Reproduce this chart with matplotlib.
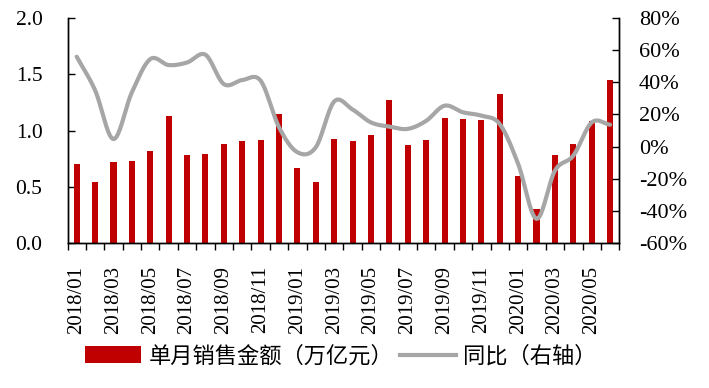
import numpy as np
import matplotlib
matplotlib.use("Agg")
import matplotlib.pyplot as plt
from matplotlib.lines import Line2D
from matplotlib.patches import Patch

months = [f"{y}/{m:02d}" for y in (2018, 2019, 2020) for m in range(1, 13)][:30]
sales = [0.70, 0.54, 0.72, 0.73, 0.82, 1.13, 0.785, 0.79, 0.876, 0.905,
         0.918, 1.15, 0.666, 0.546, 0.926, 0.91, 0.956, 1.274, 0.873, 0.918,
         1.109, 1.10, 1.097, 1.32, 0.60, 0.30, 0.78, 0.876, 1.088, 1.45]
yoy = [55.8, 35.0, 4.7, 33.7, 54.3, 50.6, 52.2, 57.0, 38.8, 41.3,
       40.9, 12.0, -3.5, -0.4, 28.0, 23.0, 15.0, 12.4, 11.0, 16.0,
       25.4, 21.3, 19.2, 14.0, -10.7, -44.8, -14.9, -5.6, 15.0, 13.6]
left_ticks = [0.0, 0.5, 1.0, 1.5, 2.0]
right_ticks = [-60, -40, -20, 0, 20, 40, 60, 80]
bar_label = "单月销售金额（万亿元）"
line_label = "同比（右轴）"

fam = ["Liberation Serif", "Noto Sans CJK SC"]
plt.rcParams["font.family"] = fam


def catmull_rom(x, y, n=20):
    x = np.asarray(x, float)
    y = np.asarray(y, float)
    px = np.concatenate([[2 * x[0] - x[1]], x, [2 * x[-1] - x[-2]]])
    py = np.concatenate([[2 * y[0] - y[1]], y, [2 * y[-1] - y[-2]]])
    xs, ys = [], []
    t = np.linspace(0, 1, n, endpoint=False)
    for i in range(1, len(px) - 2):
        p0, p1, p2, p3 = py[i - 1], py[i], py[i + 1], py[i + 2]
        q0, q1, q2, q3 = px[i - 1], px[i], px[i + 1], px[i + 2]
        f = lambda a0, a1, a2, a3: 0.5 * ((2 * a1) + (-a0 + a2) * t
                                          + (2 * a0 - 5 * a1 + 4 * a2 - a3) * t ** 2
                                          + (-a0 + 3 * a1 - 3 * a2 + a3) * t ** 3)
        xs.append(f(q0, q1, q2, q3))
        ys.append(f(p0, p1, p2, p3))
    xs.append([x[-1]])
    ys.append([y[-1]])
    return np.concatenate(xs), np.concatenate(ys)


fig = plt.figure(figsize=(7.09, 3.88), dpi=100)
ax = fig.add_axes([67.5 / 709, 1 - 243.3 / 388, (619.3 - 67.5) / 709, (243.3 - 17.7) / 388])
ax2 = ax.twinx()

x = np.arange(len(months))
ax.bar(x, sales, width=0.33, color="#C00000", zorder=2)
ax.set_xlim(-0.5, len(months) - 0.5)
ax.set_ylim(0, 2.0)
ax.set_yticks(left_ticks)
ax.set_yticklabels([f"{v:.1f}" for v in left_ticks], fontsize=15.5)
ax.set_xticks(x[::2])
ax.set_xticklabels(months[::2], rotation=90, fontsize=15)
ax.set_xticks(np.arange(-0.5, len(months), 1), minor=True)
ax.tick_params(axis="x", which="major", length=0, pad=16)
ax.tick_params(axis="x", which="minor", length=5, direction="out", width=1)
ax.tick_params(axis="y", direction="in", length=5, width=1, pad=18)

sx, sy = catmull_rom(x, yoy)
ax2.plot(sx, sy, color="#A6A6A6", lw=3.0, solid_capstyle="round", zorder=3)
ax2.set_ylim(-60, 80)
ax2.set_yticks(right_ticks)
ax2.set_yticklabels([f"{v}%" for v in right_ticks], fontsize=16)
ax2.tick_params(axis="y", direction="in", length=5, width=1, pad=14)

for a in (ax, ax2):
    a.spines["top"].set_visible(False)
    for s in ("left", "right", "bottom"):
        a.spines[s].set_linewidth(1)
        a.spines[s].set_color("black")

handles = [Patch(facecolor="#C00000", edgecolor="none", label=bar_label),
           Line2D([0], [0], color="#A6A6A6", lw=3.0, label=line_label)]
fig.legend(handles=handles, loc="center", bbox_to_anchor=(341 / 709, 1 - 357 / 388),
           ncol=2, frameon=False, prop={"family": fam, "size": 16},
           handlelength=2.5, handleheight=0.8, handletextpad=0.35, columnspacing=0.3)

fig.savefig("out.png", dpi=100)
